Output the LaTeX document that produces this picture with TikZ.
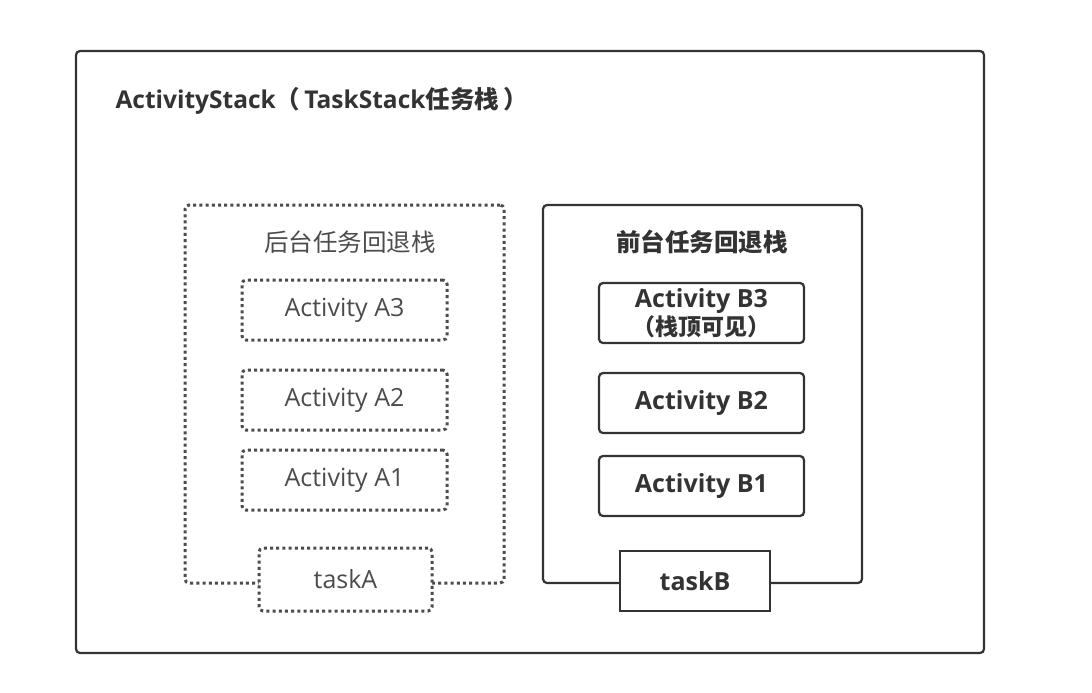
\documentclass[tikz,border=0pt]{standalone}
\usepackage{fontspec}
\setmainfont{Open Sans}
\newfontfamily\cjk{Noto Sans CJK SC}
\usepackage{xcolor}
\definecolor{line}{rgb}{0.2,0.2,0.2}
\definecolor{soft}{rgb}{0.3,0.3,0.3}

\begin{document}
\begin{tikzpicture}[x=1pt,y=-1pt,
            box/.style = {draw=line, line width=2.2pt,
            rounded corners=4pt, fill=white, inner sep=0pt},
            dotbox/.style = {draw=soft, line width=3pt,
            dash pattern=on 3pt off 3.2pt,
            rounded corners=4pt, fill=white, inner sep=0pt},
            act/.style = {minimum width=205pt, minimum height=60pt,
            align=center, font=\fontsize{25}{27}\selectfont}]
        \useasboundingbox (0,0) rectangle (1092,693);

        % ActivityStack
        \node[box, minimum width=908pt, minimum height=602pt] (stack) at (530,352) {};
        \node[anchor=west, text=line, font=\fontsize{24.5}{24.5}\selectfont\bfseries] (title) at (112,101)
            {ActivityStack{\cjk （\,}TaskStack{\cjk 任务栈\,）}};

        % Back stack A
        \node[dotbox, minimum width=319pt, minimum height=378pt] (back) at (344.5,394) {};
        \node[text=soft, font=\fontsize{24.5}{24.5}\selectfont\cjk] (backtitle) at (350,242) {后台任务回退栈};
        \node[dotbox, act, text=soft] (A3) at (344.5,310) {Activity A3};
        \node[dotbox, act, text=soft] (A2) at (344.5,400) {Activity A2};
        \node[dotbox, act, text=soft] (A1) at (344.5,480) {Activity A1};
        \node[dotbox, act, text=soft, minimum width=173pt, minimum height=63pt] (taskA) at (345.5,579.5) {taskA};

        % Front stack B
        \node[box, minimum width=319pt, minimum height=378pt] (front) at (702.5,394) {};
        \node[text=line, font=\fontsize{24.5}{24.5}\selectfont\cjk\bfseries] (fronttitle) at (702,242) {前台任务回退栈};
        \node[box, act, text=line, font=\fontsize{25}{28}\selectfont\bfseries] (B3) at (701.5,313)
            {Activity B3\\{\cjk\bfseries\fontsize{23}{28}\selectfont （栈顶可见）}};
        \node[box, act, text=line, font=\fontsize{25}{25}\selectfont\bfseries] (B2) at (701.5,403) {Activity B2};
        \node[box, act, text=line, font=\fontsize{25}{25}\selectfont\bfseries] (B1) at (701.5,486) {Activity B1};
        \node[box, act, text=line, rounded corners=0pt, minimum width=150pt,
            font=\fontsize{25}{25}\selectfont\bfseries] (taskB) at (695,581) {taskB};
    \end{tikzpicture}
\end{document}
